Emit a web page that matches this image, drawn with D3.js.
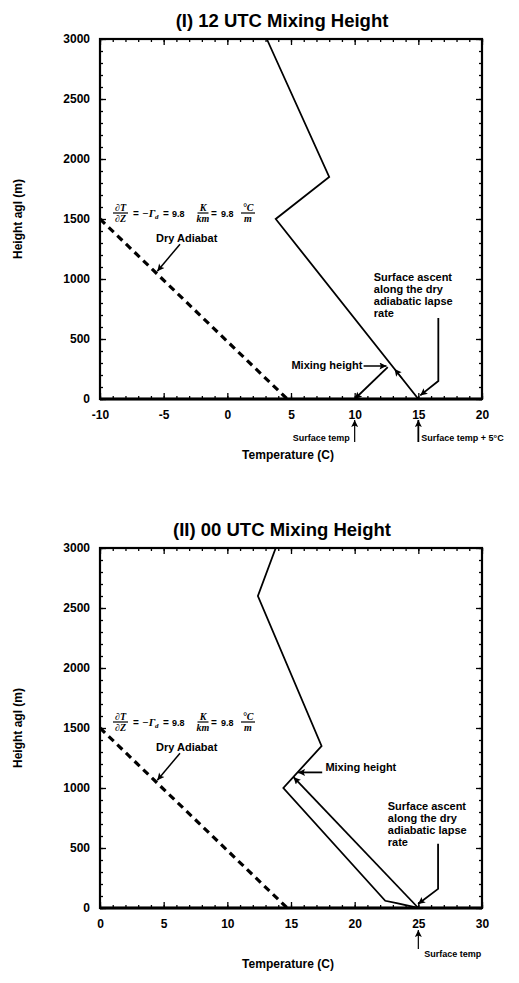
<!DOCTYPE html>
<html>
<head>
<meta charset="utf-8">
<script src="https://cdn.jsdelivr.net/npm/d3@7"></script>
<style>
body { margin: 0; background: #fff; }
text { font-family: "Liberation Sans", Arial, sans-serif; font-weight: bold; fill: #000; }
</style>
</head>
<body>
<div id="chart"></div>
<script>
// titles and axes
var titles = ["(I) 12 UTC Mixing Height", "(II) 00 UTC Mixing Height"];
var xDomains = [[-10, 20], [0, 30]];
var xTicks = [[-10, -5, 0, 5, 10, 15, 20], [0, 5, 10, 15, 20, 25, 30]];
var yTicks = [0, 500, 1000, 1500, 2000, 2500, 3000];

// 12 UTC sounding (temperature C, height m)
var temp12 = [3.1, 8.0, 3.8, 15.0];
var hgt12 = [3000, 1850, 1500, 0];
var dryT12 = [-10, 4.7];
var dryH12 = [1500, 0];
var mixT12 = [12.6, 10.0];
var mixH12 = [265, 0];

// 00 UTC sounding
var temp00 = [13.8, 12.4, 17.4, 14.4, 22.4, 23.3, 25.0];
var hgt00 = [3000, 2600, 1350, 1000, 60, 40, 0];
var dryT00 = [0, 14.7];
var dryH00 = [1500, 0];
var ascT00 = [25.0, 15.2];
var ascH00 = [0, 1090];

var W = 519, H = 983;
var left = 100, right = 482, plotH = 360;

var svg = d3.select("#chart").append("svg")
    .attr("width", W)
    .attr("height", H);

// arrow head
svg.append("defs").append("marker")
    .attr("id", "arr")
    .attr("viewBox", "0 0 10 10")
    .attr("refX", 10)
    .attr("refY", 5)
    .attr("markerWidth", 9)
    .attr("markerHeight", 7)
    .attr("markerUnits", "userSpaceOnUse")
    .attr("orient", "auto")
    .append("path")
    .attr("d", "M0,0L10,5L0,10L2,5z")
    .attr("fill", "#000");

var line = d3.line();

function arrow(g, pts, w) {
    g.append("path")
        .attr("d", line(pts))
        .attr("fill", "none")
        .attr("stroke", "#000")
        .attr("stroke-width", w || 1.5)
        .attr("marker-end", "url(#arr)");
}

// dT/dZ = -Gamma_d = 9.8 K/km = 9.8 C/m, drawn as small fractions
function formula(g, x0, y0) {
    var f = g.append("g")
        .attr("transform", "translate(" + x0 + "," + y0 + ")");
    function t(x, y, s, size, anchor, serif) {
        f.append("text")
            .attr("x", x).attr("y", y)
            .attr("text-anchor", anchor || "start")
            .style("font-family", serif === false ? "'Liberation Sans', Arial, sans-serif" : "'Liberation Serif', serif")
            .style("font-style", serif === false ? "normal" : "italic")
            .style("font-size", size + "px")
            .text(s);
    }
    function frac(cx, num, den, w) {
        t(cx, -2.5, num, 10, "middle");
        f.append("line")
            .attr("x1", cx - w / 2).attr("x2", cx + w / 2)
            .attr("y1", 0).attr("y2", 0)
            .attr("stroke", "#000").attr("stroke-width", 1.2);
        t(cx, 9, den, 10, "middle");
    }
    frac(7.5, "\u2202T", "\u2202Z", 15);
    t(20, 3.5, "=", 10, "start", false);
    t(29, 3.5, "\u2212\u0393", 11);
    t(42, 5.5, "d", 7);
    t(50, 3.5, "=", 10, "start", false);
    t(59, 3.5, "9.8", 9, "start", false);
    frac(90, "K", "km", 11);
    t(98, 3.5, "=", 10, "start", false);
    t(108, 3.5, "9.8", 9, "start", false);
    frac(135, "\u00b0C", "m", 14);
}

var panels = [
    {top: 39, title: titles[0], xd: xDomains[0], xt: xTicks[0],
     temp: temp12, hgt: hgt12, dryT: dryT12, dryH: dryH12},
    {top: 548, title: titles[1], xd: xDomains[1], xt: xTicks[1],
     temp: temp00, hgt: hgt00, dryT: dryT00, dryH: dryH00}
];

panels.forEach(function(p, i) {
    var x = d3.scaleLinear().domain(p.xd).range([left, right]);
    var y = d3.scaleLinear().domain([0, 3000]).range([p.top + plotH, p.top]);
    var g = svg.append("g");
    var minorX = d3.range(p.xd[0], p.xd[1] + 1, 1);
    var minorY = d3.range(0, 3001, 100);
    var bottom = y(0);

    function styleAxis(sel) {
        sel.select(".domain").remove();
        sel.selectAll(".tick line").attr("stroke-width", 1.3);
        sel.selectAll("text")
            .style("font-family", "'Liberation Sans', Arial, sans-serif")
            .style("font-weight", "bold")
            .style("font-size", "12px")
            .attr("fill", "#000");
    }

    // minor ticks
    g.append("g").attr("transform", "translate(0," + bottom + ")")
        .call(d3.axisBottom(x).tickValues(minorX).tickSize(-3).tickFormat("")).call(styleAxis);
    g.append("g").attr("transform", "translate(0," + p.top + ")")
        .call(d3.axisTop(x).tickValues(minorX).tickSize(-3).tickFormat("")).call(styleAxis);
    g.append("g").attr("transform", "translate(" + left + ",0)")
        .call(d3.axisLeft(y).tickValues(minorY).tickSize(-3).tickFormat("")).call(styleAxis);
    g.append("g").attr("transform", "translate(" + right + ",0)")
        .call(d3.axisRight(y).tickValues(minorY).tickSize(-3).tickFormat("")).call(styleAxis);

    // major ticks and labels
    g.append("g").attr("transform", "translate(0," + bottom + ")")
        .call(d3.axisBottom(x).tickValues(p.xt).tickSize(-6).tickPadding(11)
            .tickFormat(function(d) { return String(d); }))
        .call(styleAxis);
    g.append("g").attr("transform", "translate(0," + p.top + ")")
        .call(d3.axisTop(x).tickValues(p.xt).tickSize(-6).tickFormat("")).call(styleAxis);
    g.append("g").attr("transform", "translate(" + left + ",0)")
        .call(d3.axisLeft(y).tickValues(yTicks).tickSize(-6).tickPadding(10)
            .tickFormat(function(d) { return String(d); }))
        .call(styleAxis);
    g.append("g").attr("transform", "translate(" + right + ",0)")
        .call(d3.axisRight(y).tickValues(yTicks).tickSize(-6).tickFormat("")).call(styleAxis);

    // frame
    g.append("rect")
        .attr("x", left).attr("y", p.top)
        .attr("width", right - left).attr("height", plotH)
        .attr("fill", "none").attr("stroke", "#000").attr("stroke-width", 2.2);
    g.append("line")
        .attr("x1", left).attr("x2", right)
        .attr("y1", bottom).attr("y2", bottom)
        .attr("stroke", "#000").attr("stroke-width", 3);

    // title and axis labels
    g.append("text")
        .attr("x", 282).attr("y", p.top - 12)
        .attr("text-anchor", "middle")
        .style("font-size", "18.5px")
        .text(p.title);
    g.append("text")
        .attr("transform", "translate(22," + (p.top + plotH / 2) + ") rotate(-90)")
        .attr("text-anchor", "middle")
        .style("font-size", "12px")
        .text("Height agl (m)");
    g.append("text")
        .attr("x", 288).attr("y", bottom + 60)
        .attr("text-anchor", "middle")
        .style("font-size", "12px")
        .text("Temperature (C)");

    // dry adiabat (dashed)
    g.append("path")
        .attr("d", line(p.dryT.map(function(t, k) { return [x(t), y(p.dryH[k])]; })))
        .attr("fill", "none").attr("stroke", "#000")
        .attr("stroke-width", 3.2).attr("stroke-dasharray", "7,5");

    // sounding
    g.append("path")
        .attr("d", line(p.temp.map(function(t, k) { return [x(t), y(p.hgt[k])]; })))
        .attr("fill", "none").attr("stroke", "#000")
        .attr("stroke-width", 1.8).attr("stroke-linejoin", "miter");

    // lapse rate formula and dry adiabat label
    formula(g, left + 13, y(1550));
    g.append("text")
        .attr("x", left + 56).attr("y", y(1310))
        .style("font-size", "11px")
        .text("Dry Adiabat");
    var slope = (p.dryT[1] - p.dryT[0]) / (p.dryH[0] - p.dryH[1]);
    var tipT = p.dryT[0] + (p.dryH[0] - 1065) * slope;
    arrow(g, [[left + 80, y(1290)], [x(tipT) + 3, y(1065)]], 1.5);

    // surface ascent label
    var asc = g.append("text")
        .style("font-size", "11px");
    var ascX = i === 0 ? x(11.5) : x(22.6);
    var ascY = i === 0 ? y(985) : y(820);
    ["Surface ascent", "along the dry", "adiabatic lapse", "rate"].forEach(function(s, k) {
        asc.append("tspan").attr("x", ascX).attr("y", ascY + k * 12).text(s);
    });

    if (i === 0) {
        arrow(g, [[x(16.57), y(675)], [x(16.57), y(150)], [x(15.15), y(30)]], 1.8);
        // mixing height
        g.append("text")
            .attr("x", x(10.6)).attr("y", y(250))
            .attr("text-anchor", "end")
            .style("font-size", "11px")
            .text("Mixing height");
        arrow(g, [[x(10.7), y(275)], [x(12.5), y(275)]], 1.5);
        arrow(g, mixT12.map(function(t, k) { return [x(t), y(mixH12[k])]; }), 1.8);
        arrow(g, [[x(3.8 + 11.2 * (1500 - 170) / 1500), y(170)],
                  [x(3.8 + 11.2 * (1500 - 250) / 1500), y(250)]], 1.2);
        // surface temp markers
        arrow(g, [[x(10), bottom + 43], [x(10), bottom + 21]], 1.2);
        arrow(g, [[x(15), bottom + 43], [x(15), bottom + 21]], 1.8);
        g.append("text")
            .attr("x", x(10) - 5).attr("y", bottom + 42)
            .attr("text-anchor", "end")
            .style("font-size", "9px")
            .text("Surface temp");
        g.append("text")
            .attr("x", x(15) + 3).attr("y", bottom + 42)
            .style("font-size", "9px")
            .text("Surface temp + 5\u00b0C");
    } else {
        arrow(g, [[x(26.55), y(535)], [x(26.55), y(159)], [x(24.98), y(33)]], 1.8);
        // parcel ascent from the surface
        arrow(g, ascT00.map(function(t, k) { return [x(t), y(ascH00[k])]; }), 1.8);
        g.append("text")
            .attr("x", x(17.7)).attr("y", y(1145))
            .style("font-size", "11px")
            .text("Mixing height");
        arrow(g, [[x(17.45), y(1130)], [x(15.55), y(1130)]], 1.8);
        arrow(g, [[x(25), bottom + 41], [x(25), bottom + 22]], 1.2);
        g.append("text")
            .attr("x", x(25) + 6).attr("y", bottom + 49)
            .style("font-size", "9px")
            .text("Surface temp");
    }
});
</script>
</body>
</html>
